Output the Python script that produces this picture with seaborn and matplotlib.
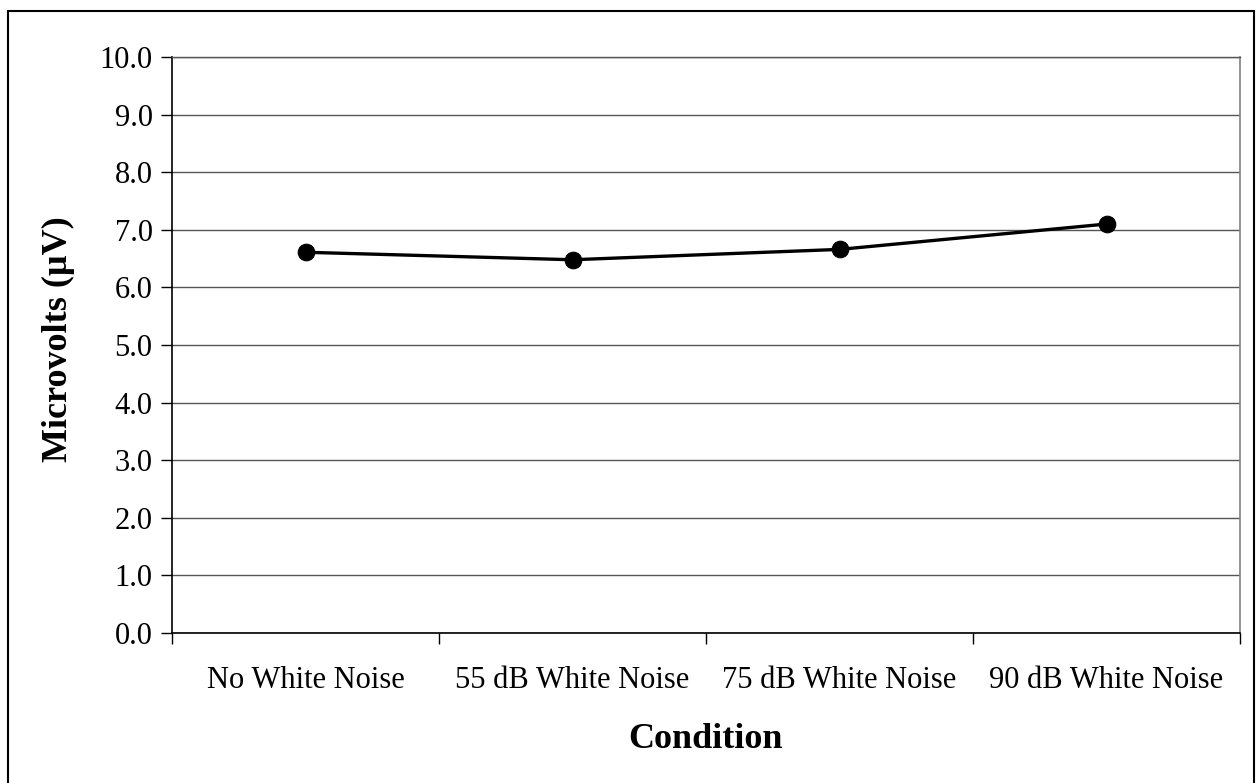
import matplotlib
matplotlib.use("Agg")
import matplotlib.pyplot as plt
from matplotlib.patches import Rectangle
from matplotlib.ticker import FixedLocator
import numpy as np
import pandas as pd
import seaborn as sns

conditions = ["No White Noise", "55 dB White Noise", "75 dB White Noise", "90 dB White Noise"]
microvolts = [6.61, 6.48, 6.66, 7.10]
y_ticks = [0.0, 1.0, 2.0, 3.0, 4.0, 5.0, 6.0, 7.0, 8.0, 9.0, 10.0]

sns.set_style("white")
plt.rcParams["font.family"] = ["Liberation Serif", "DejaVu Serif"]
plt.rcParams["text.color"] = "black"
plt.rcParams["axes.labelcolor"] = "black"
plt.rcParams["xtick.color"] = "black"
plt.rcParams["ytick.color"] = "black"

W, H = 1259, 783
fig = plt.figure(figsize=(W / 100, H / 100), dpi=100)
ax = fig.add_axes([172 / W, 1 - 633 / H, (1240 - 172) / W, (633 - 57) / H])

df = pd.DataFrame({"Condition": conditions, "Microvolts": microvolts})
df["pos"] = np.arange(len(conditions))

sns.lineplot(data=df, x="pos", y="Microvolts", ax=ax, color="black",
             linewidth=2.4, marker="o", markersize=12, markeredgecolor="black",
             markerfacecolor="black", zorder=3)

ax.set_xlim(-0.5, len(conditions) - 0.5)
ax.set_ylim(0, 10)
ax.set_yticks(y_ticks)
ax.set_yticklabels([f"{v:.1f}" for v in y_ticks], fontsize=22)
ax.yaxis.grid(True, color="#555555", linewidth=1.0)
ax.set_axisbelow(True)

# category labels centred, tick marks on the category boundaries
ax.set_xticks(df["pos"])
ax.set_xticklabels(conditions, fontsize=22)
ax.xaxis.set_minor_locator(FixedLocator(np.arange(-0.5, len(conditions), 1.0)))
ax.tick_params(axis="x", which="major", length=0, pad=24)
ax.tick_params(axis="x", which="minor", length=8, width=1, color="black", direction="out", bottom=True)
ax.tick_params(axis="y", which="major", length=8, width=1, color="black", direction="out", left=True, pad=6)

for side in ["left", "bottom"]:
    ax.spines[side].set_color("black")
    ax.spines[side].set_linewidth(1.2)
ax.spines["right"].set_color("#808080")
ax.spines["right"].set_linewidth(1.2)
ax.spines["top"].set_color("#555555")
ax.spines["top"].set_linewidth(1.0)

ax.set_xlabel("Condition", fontsize=26, fontweight="bold")
ax.set_ylabel("Microvolts (\u00b5V)", fontsize=26, fontweight="bold")
# place axis titles in figure pixels
ax.xaxis.set_label_coords(0.5, 1 - 739 / H, transform=fig.transFigure)
ax.yaxis.set_label_coords(58 / W, 1 - 339 / H, transform=fig.transFigure)
ax.xaxis.label.set_verticalalignment("center")
ax.yaxis.label.set_verticalalignment("center")
ax.xaxis.set_label_coords((172 + 1240) / 2 / W, 1 - 739 / H, transform=fig.transFigure)

# chart frame (bottom edge runs past the canvas)
fig.patches.append(Rectangle((8 / W, -0.02), (1254 - 8) / W, 1 - 11 / H + 0.02,
                             transform=fig.transFigure, fill=False,
                             edgecolor="black", linewidth=1.5))

fig.savefig("out.png", dpi=100, facecolor="white")
